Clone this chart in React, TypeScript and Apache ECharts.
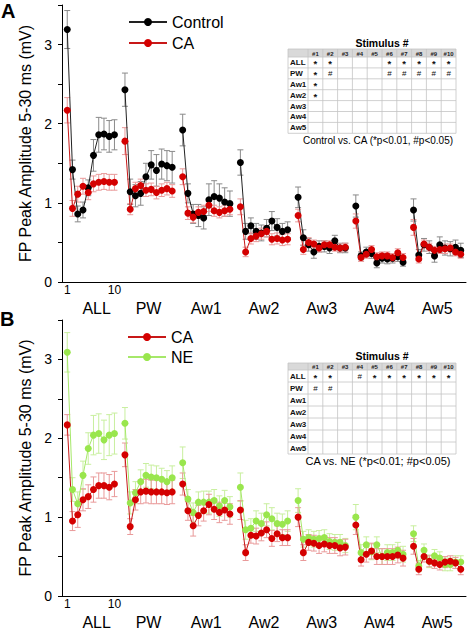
import React, { useEffect, useRef } from "react";
import * as echarts from "echarts";

const FONT = "'Liberation Sans', Arial, Helvetica, sans-serif";

const groups = ["ALL", "PW", "Aw1", "Aw2", "Aw3", "Aw4", "Aw5"];
const stimTicks = [1, 10];
const stimHeaders = ["#1", "#2", "#3", "#4", "#5", "#6", "#7", "#8", "#9", "#10"];

// Panel A
const ctrlA = [
  3.19, 1.42, 0.86, 0.91, 1.19, 1.6, 1.86, 1.87, 1.84, 1.86,
  2.43, 1.14, 1.09, 1.12, 1.33, 1.48, 1.41, 1.49, 1.47, 1.45,
  1.92, 1.12, 0.86, 0.84, 0.81, 1.04, 1.08, 1.06, 1.01, 0.99,
  1.51, 0.64, 0.71, 0.64, 0.62, 0.68, 0.77, 0.69, 0.64, 0.66,
  1.07, 0.56, 0.47, 0.38, 0.45, 0.45, 0.43, 0.52, 0.43, 0.43,
  0.96, 0.33, 0.38, 0.36, 0.24, 0.3, 0.29, 0.3, 0.32, 0.25,
  0.91, 0.34, 0.47, 0.44, 0.33, 0.47, 0.43, 0.42, 0.44, 0.4,
];
const ctrlAErr = [
  0.24, 0.12, 0.1, 0.1, 0.1, 0.2, 0.22, 0.2, 0.2, 0.19,
  0.21, 0.16, 0.14, 0.15, 0.17, 0.18, 0.2, 0.19, 0.19, 0.2,
  0.2, 0.12, 0.12, 0.14, 0.14, 0.2, 0.2, 0.18, 0.18, 0.16,
  0.16, 0.1, 0.1, 0.1, 0.1, 0.11, 0.12, 0.11, 0.1, 0.1,
  0.13, 0.1, 0.08, 0.08, 0.07, 0.07, 0.07, 0.07, 0.06, 0.06,
  0.14, 0.05, 0.06, 0.06, 0.06, 0.06, 0.06, 0.06, 0.06, 0.05,
  0.14, 0.07, 0.08, 0.08, 0.08, 0.1, 0.09, 0.09, 0.09, 0.09,
];
const caA = [
  2.17, 0.93, 1.11, 1.21, 1.13, 1.24, 1.26, 1.27, 1.26, 1.26,
  1.78, 0.92, 1.18, 1.22, 1.16, 1.17, 1.13, 1.16, 1.18, 1.15,
  1.33, 0.87, 0.82, 0.88, 0.89, 0.97, 0.9, 0.88, 0.9, 0.92,
  0.95, 0.38, 0.55, 0.58, 0.61, 0.64, 0.54, 0.55, 0.53, 0.54,
  0.84, 0.41, 0.5, 0.48, 0.43, 0.47, 0.47, 0.44, 0.43, 0.44,
  0.77, 0.31, 0.35, 0.41, 0.32, 0.33, 0.33, 0.31, 0.37, 0.31,
  0.69, 0.29, 0.48, 0.44, 0.4, 0.41, 0.42, 0.43, 0.38, 0.35,
];
const caAErr = [
  0.16, 0.1, 0.1, 0.1, 0.09, 0.1, 0.1, 0.1, 0.1, 0.1,
  0.17, 0.07, 0.08, 0.08, 0.08, 0.08, 0.08, 0.08, 0.08, 0.08,
  0.1, 0.08, 0.07, 0.07, 0.08, 0.08, 0.07, 0.07, 0.07, 0.07,
  0.1, 0.06, 0.07, 0.07, 0.07, 0.07, 0.07, 0.07, 0.07, 0.07,
  0.08, 0.06, 0.06, 0.05, 0.05, 0.05, 0.05, 0.05, 0.05, 0.05,
  0.09, 0.05, 0.05, 0.05, 0.05, 0.05, 0.05, 0.05, 0.05, 0.05,
  0.1, 0.05, 0.05, 0.05, 0.05, 0.05, 0.06, 0.05, 0.05, 0.05,
];

// Panel B
const caB = [
  2.17, 0.95, 1.03, 1.22, 1.26, 1.35, 1.4, 1.4, 1.38, 1.42,
  1.79, 0.88, 1.22, 1.32, 1.33, 1.32, 1.32, 1.32, 1.31, 1.32,
  1.42, 1.08, 0.89, 1.02, 1.08, 1.16, 1.1, 1.06, 1.09, 1.04,
  1.09, 0.55, 0.77, 0.76, 0.8, 0.84, 0.73, 0.79, 0.74, 0.74,
  1.0, 0.55, 0.68, 0.67, 0.64, 0.66, 0.64, 0.64, 0.61, 0.62,
  0.9, 0.46, 0.53, 0.57, 0.5, 0.5, 0.5, 0.5, 0.52, 0.48,
  0.63, 0.34, 0.5, 0.44, 0.42, 0.4, 0.43, 0.44, 0.42, 0.34,
];
const caBErr = [
  0.13, 0.12, 0.16, 0.14, 0.15, 0.16, 0.16, 0.16, 0.16, 0.16,
  0.15, 0.1, 0.13, 0.15, 0.15, 0.15, 0.15, 0.15, 0.15, 0.15,
  0.14, 0.12, 0.13, 0.13, 0.13, 0.13, 0.13, 0.13, 0.13, 0.13,
  0.12, 0.1, 0.1, 0.1, 0.1, 0.1, 0.1, 0.1, 0.1, 0.1,
  0.12, 0.1, 0.1, 0.1, 0.1, 0.1, 0.1, 0.1, 0.1, 0.1,
  0.12, 0.08, 0.1, 0.1, 0.1, 0.1, 0.1, 0.1, 0.1, 0.1,
  0.1, 0.07, 0.07, 0.07, 0.07, 0.07, 0.07, 0.07, 0.07, 0.07,
];
const neB = [
  3.09, 1.35, 1.17, 1.53, 1.87, 2.04, 2.06, 1.98, 2.04, 2.06,
  2.19, 1.18, 1.31, 1.45, 1.53, 1.51, 1.5, 1.48, 1.45, 1.5,
  1.69, 1.23, 1.06, 1.19, 1.19, 1.19, 1.21, 1.14, 1.21, 1.13,
  1.38, 0.84, 0.86, 0.95, 0.92, 1.03, 0.98, 0.92, 0.91, 0.95,
  1.21, 0.72, 0.74, 0.72, 0.73, 0.74, 0.69, 0.68, 0.68, 0.64,
  1.0, 0.55, 0.65, 0.56, 0.65, 0.5, 0.55, 0.55, 0.58, 0.53,
  0.79, 0.38, 0.58, 0.44, 0.51, 0.48, 0.4, 0.4, 0.43, 0.43,
];
const neBErr = [
  0.25, 0.15, 0.15, 0.18, 0.2, 0.25, 0.25, 0.25, 0.26, 0.26,
  0.2, 0.14, 0.14, 0.15, 0.15, 0.15, 0.15, 0.14, 0.14, 0.15,
  0.2, 0.12, 0.12, 0.13, 0.14, 0.14, 0.14, 0.13, 0.13, 0.13,
  0.18, 0.12, 0.12, 0.13, 0.13, 0.14, 0.14, 0.13, 0.13, 0.13,
  0.15, 0.1, 0.1, 0.1, 0.1, 0.1, 0.1, 0.1, 0.1, 0.09,
  0.16, 0.1, 0.1, 0.1, 0.1, 0.1, 0.1, 0.1, 0.1, 0.1,
  0.1, 0.07, 0.08, 0.08, 0.08, 0.08, 0.08, 0.08, 0.08, 0.08,
];

// Significance tables (rows: ALL, PW, Aw1..Aw5; cols: stimulus #1..#10)
const sigA = [
  ["*", "*", "", "", "", "*", "*", "*", "*", "*"],
  ["*", "#", "", "", "", "#", "#", "#", "#", "#"],
  ["*", "", "", "", "", "", "", "", "", ""],
  ["*", "", "", "", "", "", "", "", "", ""],
  ["", "", "", "", "", "", "", "", "", ""],
  ["", "", "", "", "", "", "", "", "", ""],
  ["", "", "", "", "", "", "", "", "", ""],
];
const sigB = [
  ["*", "*", "", "#", "*", "*", "*", "*", "*", "*"],
  ["#", "#", "", "", "", "", "", "", "", ""],
  ["", "", "", "", "", "", "", "", "", ""],
  ["", "", "", "", "", "", "", "", "", ""],
  ["", "", "", "", "", "", "", "", "", ""],
  ["", "", "", "", "", "", "", "", "", ""],
  ["", "", "", "", "", "", "", "", "", ""],
];

const GROUP_STEP = 11;
const xOf = (g: number, i: number) => g * GROUP_STEP + i + 1;
// where each group's name sits on the x axis (first one is set slightly right, as in the figure)
const groupLabelPos = (g: number) => g * GROUP_STEP + 5.5 + (g === 0 ? 1.1 : 0);

function lineData(vals: number[]) {
  const out: any[] = [];
  groups.forEach((_, g) => {
    if (g > 0) out.push([g * GROUP_STEP, "-"]);
    for (let i = 0; i < 10; i++) out.push([xOf(g, i), vals[g * 10 + i]]);
  });
  return out;
}
function errData(vals: number[], errs: number[]) {
  const out: any[] = [];
  groups.forEach((_, g) => {
    for (let i = 0; i < 10; i++) {
      const k = g * 10 + i;
      out.push([xOf(g, i), vals[k] - errs[k], vals[k] + errs[k]]);
    }
  });
  return out;
}

function errSeries(name: string, vals: number[], errs: number[], color: string, axis: number) {
  return {
    type: "custom",
    name: name + " err",
    xAxisIndex: axis * 2,
    yAxisIndex: axis,
    silent: true,
    z: 1,
    data: errData(vals, errs),
    encode: { x: 0, y: [1, 2] },
    renderItem: (params: any, api: any) => {
      const x = api.value(0);
      const lo = api.coord([x, api.value(1)]);
      const hi = api.coord([x, api.value(2)]);
      const w = 3;
      const style = { stroke: color, lineWidth: 1, fill: "none" };
      return {
        type: "group",
        children: [
          { type: "line", shape: { x1: lo[0], y1: lo[1], x2: hi[0], y2: hi[1] }, style },
          { type: "line", shape: { x1: lo[0] - w, y1: lo[1], x2: lo[0] + w, y2: lo[1] }, style },
          { type: "line", shape: { x1: hi[0] - w, y1: hi[1], x2: hi[0] + w, y2: hi[1] }, style },
        ],
      };
    },
  };
}

function lineSeries(name: string, vals: number[], color: string, lineColor: string, axis: number) {
  return {
    type: "line",
    name,
    xAxisIndex: axis * 2,
    yAxisIndex: axis,
    data: lineData(vals),
    connectNulls: false,
    symbol: "circle",
    symbolSize: 7,
    z: 3,
    itemStyle: { color, borderWidth: 0 },
    lineStyle: { color: lineColor, width: 1 },
  };
}

function tableGraphic(
  left: number, top: number, headerH: number, rowH: number, sig: string[][],
  titleY: number, caption: string, captionY: number, captionSize: number
) {
  const labelW = 20;
  const colW = 14.8;
  const W = labelW + 10 * colW;
  const H = headerH + rowH * groups.length;
  const children: any[] = [];
  const lineStyle = { stroke: "#c4c4c4", lineWidth: 0.8 };
  children.push({ type: "rect", shape: { x: left, y: top, width: W, height: headerH }, style: { fill: "#d9d9d9" } });
  for (let r = 0; r <= groups.length + 1; r++) {
    const y = r === 0 ? top : top + headerH + (r - 1) * rowH;
    children.push({ type: "line", shape: { x1: left, y1: y, x2: left + W, y2: y }, style: lineStyle });
  }
  for (let c = 0; c <= 11; c++) {
    const x = c === 0 ? left : left + labelW + (c - 1) * colW;
    children.push({ type: "line", shape: { x1: x, y1: top, x2: x, y2: top + H }, style: lineStyle });
  }
  stimHeaders.forEach((h, c) => {
    children.push({
      type: "text",
      x: left + labelW + (c + 0.5) * colW,
      y: top + headerH / 2 + 0.5,
      style: { text: h, font: `bold 6px ${FONT}`, fill: "#222", textAlign: "center", textVerticalAlign: "middle" },
    });
  });
  groups.forEach((g, r) => {
    const cy = top + headerH + (r + 0.5) * rowH;
    children.push({
      type: "text",
      x: left + 2,
      y: cy,
      style: { text: g, font: `bold 8px ${FONT}`, fill: "#111", textAlign: "left", textVerticalAlign: "middle" },
    });
    sig[r].forEach((s, c) => {
      if (!s) return;
      children.push({
        type: "text",
        x: left + labelW + (c + 0.5) * colW,
        y: cy + (s === "*" ? 1.5 : 0),
        style: {
          text: s,
          font: s === "*" ? `bold 9.5px ${FONT}` : `8px ${FONT}`,
          fill: "#111",
          textAlign: "center",
          textVerticalAlign: "middle",
        },
      });
    });
  });
  children.push({
    type: "text",
    x: left + labelW + 5 * colW,
    y: titleY,
    style: { text: "Stimulus #", font: `bold 10.5px ${FONT}`, fill: "#000", textAlign: "center", textVerticalAlign: "middle" },
  });
  children.push({
    type: "text",
    x: left + labelW + 5 * colW - 4,
    y: captionY,
    style: { text: caption, font: `${captionSize}px ${FONT}`, fill: "#000", textAlign: "center", textVerticalAlign: "middle" },
  });
  return { type: "group", children };
}

function xAxes(grid: number, labelMargin: number) {
  return [
    {
      gridIndex: grid,
      type: "value",
      min: 0,
      max: 77,
      axisLine: { show: true, onZero: false, lineStyle: { color: "#000", width: 1 } },
      axisTick: { show: false },
      splitLine: { show: false },
      axisLabel: {
        customValues: stimTicks,
        fontSize: 12,
        color: "#000",
        fontFamily: FONT,
        margin: labelMargin,
      },
    },
    {
      gridIndex: grid,
      type: "value",
      min: 0,
      max: 77,
      position: "bottom",
      offset: 16,
      axisLine: { show: false },
      axisTick: { show: false },
      splitLine: { show: false },
      axisLabel: {
        customValues: groups.map((_, g) => groupLabelPos(g)),
        formatter: (v: number) => {
          const g = groups.findIndex((_, k) => Math.abs(groupLabelPos(k) - v) < 0.01);
          return g >= 0 ? groups[g] : "";
        },
        fontSize: 16,
        color: "#000",
        fontFamily: FONT,
        margin: 2,
      },
    },
  ];
}

function yAxis(grid: number) {
  return {
    gridIndex: grid,
    type: "value",
    min: 0,
    max: 3.5,
    interval: 0.5,
    axisLine: { show: true, lineStyle: { color: "#000", width: 1 } },
    axisTick: { show: true, length: 4, lineStyle: { color: "#000" } },
    splitLine: { show: false },
    axisLabel: {
      formatter: (v: number) => (Number.isInteger(v) ? String(v) : ""),
      fontSize: 14,
      color: "#000",
      fontFamily: FONT,
      margin: 10,
    },
    name: "FP Peak Amplitude 5-30 ms (mV)",
    nameLocation: "middle",
    nameGap: 23,
    nameTextStyle: { fontSize: 16, color: "#000", fontFamily: FONT },
  };
}

export default function App() {
  const ref = useRef<HTMLDivElement>(null);
  useEffect(() => {
    if (!ref.current) return;
    const chart = echarts.init(ref.current, null, { renderer: "svg" });
    const legendBase = {
      orient: "vertical",
      itemWidth: 38,
      itemHeight: 10,
      itemGap: 5,
      textStyle: { fontSize: 16, color: "#000", fontFamily: FONT },
      selectedMode: false,
    };
    chart.setOption({
      animation: false,
      backgroundColor: "#fff",
      textStyle: { fontFamily: FONT },
      grid: [
        { left: 62, top: 5, width: 404, height: 277 },
        { left: 62, top: 320, width: 404, height: 277 },
      ],
      xAxis: [...xAxes(0, 2), ...xAxes(1, 2)],
      yAxis: [yAxis(0), yAxis(1)],
      legend: [
        { ...legendBase, data: ["Control", "CA"], left: 123, top: 9 },
        { ...legendBase, data: ["CA", "NE"], left: 122, top: 324, itemGap: 4 },
      ],
      series: [
        errSeries("Control", ctrlA, ctrlAErr, "#8a8a8a", 0),
        errSeries("CA", caA, caAErr, "#e99a9a", 0),
        lineSeries("Control", ctrlA, "#000000", "#222222", 0),
        lineSeries("CA", caA, "#d40000", "#c81818", 0),
        errSeries("NE", neB, neBErr, "#c8ef9e", 1),
        errSeries("CA", caB, caBErr, "#e99a9a", 1),
        lineSeries("NE", neB, "#99e64d", "#a6e86a", 1),
        lineSeries("CA", caB, "#d40000", "#c81818", 1),
      ],
      graphic: [
        { type: "text", x: 1, y: 1, style: { text: "A", font: `bold 20px ${FONT}`, fill: "#000" } },
        { type: "text", x: 0, y: 309, style: { text: "B", font: `bold 20px ${FONT}`, fill: "#000" } },
        tableGraphic(288, 49, 8, 10.9, sigA, 43, "Control vs. CA (*p<0.01, #p<0.05)", 140, 10),
        tableGraphic(288, 363, 7, 12, sigB, 356, "CA vs. NE (*p<0.01; #p<0.05)", 461, 11),
      ],
    });
    return () => chart.dispose();
  }, []);
  return (
    <div
      ref={ref}
      style={{ position: "absolute", left: 0, top: 0, width: 468, height: 630, background: "#fff" }}
    />
  );
}
